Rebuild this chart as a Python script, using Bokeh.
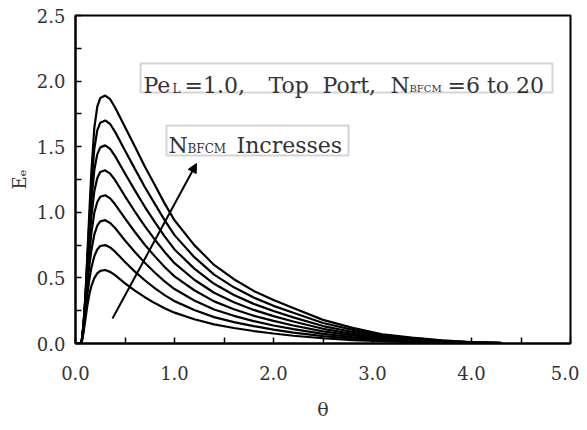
from bokeh.plotting import figure
from bokeh.models import Label, BoxAnnotation, Arrow, NormalHead, FixedTicker, Range1d, NumeralTickFormatter, ColumnDataSource
from bokeh.embed import file_html
from bokeh.resources import INLINE

# ---- data ----
theta = [0.00, 0.06, 0.08, 0.10, 0.12, 0.14, 0.16, 0.19, 0.22, 0.25, 0.30, 0.35, 0.40, 0.50, 0.60,
         0.70, 0.80, 0.90, 1.00, 1.20, 1.40, 1.60, 1.80, 2.00, 2.20, 2.50, 2.80, 3.10, 3.40, 3.70, 4.00, 4.30]

e_n6 = [0, 0, 0.078, 0.185, 0.291, 0.375, 0.437, 0.498, 0.535, 0.554, 0.560, 0.546, 0.521, 0.459, 0.403,
        0.353, 0.308, 0.269, 0.235, 0.185, 0.146, 0.118, 0.095, 0.076, 0.059, 0.040, 0.026, 0.017, 0.010, 0.0056, 0.0028, 0.0011]
e_n8 = [0, 0, 0.098, 0.233, 0.373, 0.488, 0.575, 0.665, 0.716, 0.743, 0.750, 0.732, 0.700, 0.621, 0.548,
        0.482, 0.422, 0.369, 0.323, 0.255, 0.201, 0.163, 0.132, 0.106, 0.083, 0.056, 0.037, 0.023, 0.014, 0.0078, 0.0038, 0.0016]
e_n10 = [0, 0, 0.113, 0.273, 0.446, 0.592, 0.709, 0.831, 0.898, 0.931, 0.940, 0.919, 0.880, 0.785, 0.697,
         0.615, 0.541, 0.474, 0.415, 0.328, 0.259, 0.211, 0.171, 0.137, 0.109, 0.074, 0.049, 0.030, 0.019, 0.0102, 0.0049, 0.0021]
e_n12 = [0, 0, 0.124, 0.305, 0.510, 0.689, 0.837, 0.996, 1.079, 1.119, 1.130, 1.106, 1.061, 0.953, 0.850,
         0.753, 0.666, 0.583, 0.512, 0.406, 0.321, 0.261, 0.212, 0.172, 0.137, 0.093, 0.061, 0.037, 0.023, 0.0128, 0.0060, 0.0027]
e_n14 = [0, 0, 0.132, 0.330, 0.566, 0.779, 0.962, 1.160, 1.261, 1.307, 1.320, 1.295, 1.245, 1.122, 1.006,
         0.895, 0.793, 0.698, 0.612, 0.486, 0.387, 0.314, 0.256, 0.209, 0.168, 0.112, 0.074, 0.045, 0.028, 0.0154, 0.0072, 0.0033]
e_n16 = [0, 0, 0.136, 0.347, 0.613, 0.861, 1.081, 1.323, 1.442, 1.495, 1.510, 1.483, 1.428, 1.296, 1.167,
         1.042, 0.927, 0.817, 0.717, 0.571, 0.455, 0.370, 0.302, 0.248, 0.199, 0.133, 0.088, 0.053, 0.034, 0.0183, 0.0084, 0.0039]
e_n18 = [0, 0, 0.136, 0.357, 0.651, 0.935, 1.195, 1.484, 1.624, 1.683, 1.700, 1.673, 1.613, 1.471, 1.331,
         1.193, 1.066, 0.940, 0.826, 0.658, 0.525, 0.428, 0.350, 0.287, 0.235, 0.156, 0.104, 0.061, 0.039, 0.0214, 0.0097, 0.0046]
e_n20 = [0, 0, 0.132, 0.359, 0.680, 1.002, 1.304, 1.644, 1.805, 1.871, 1.890, 1.862, 1.799, 1.650, 1.501,
         1.349, 1.210, 1.068, 0.939, 0.750, 0.599, 0.490, 0.401, 0.331, 0.270, 0.180, 0.119, 0.070, 0.045, 0.0246, 0.0113, 0.0057]

series = {"N6": e_n6, "N8": e_n8, "N10": e_n10, "N12": e_n12,
          "N14": e_n14, "N16": e_n16, "N18": e_n18, "N20": e_n20}

x_ticks = [0, 1, 2, 3, 4, 5]
x_minor = [0.5, 1.5, 2.5, 3.5, 4.5]
y_ticks = [0.0, 0.5, 1.0, 1.5, 2.0, 2.5]
y_minor = [0.25, 0.75, 1.25, 1.75, 2.25]

FONT = "DejaVu Serif"
TXT = "#333333"

p = figure(width=579, height=422,
           x_range=Range1d(0, 5), y_range=Range1d(0, 2.5),
           output_backend="svg", toolbar_location=None,
           min_border_left=75, min_border_right=9, min_border_top=15, min_border_bottom=79)

p.xgrid.visible = False
p.ygrid.visible = False
p.background_fill_color = "white"
p.border_fill_color = "white"
p.outline_line_color = "black"
p.outline_line_width = 2

src = ColumnDataSource(dict(theta=theta, **series))
for name in series:
    p.line("theta", name, source=src, line_color="black", line_width=2.2)

p.xaxis.ticker = FixedTicker(ticks=x_ticks, minor_ticks=x_minor)
p.yaxis.ticker = FixedTicker(ticks=y_ticks, minor_ticks=y_minor)
p.xaxis.formatter = NumeralTickFormatter(format="0.0")
p.yaxis.formatter = NumeralTickFormatter(format="0.0")

for ax in (p.xaxis, p.yaxis):
    ax.axis_line_width = 2
    ax.axis_line_color = "black"
    ax.major_tick_in = 6
    ax.major_tick_out = 0
    ax.minor_tick_in = 6
    ax.minor_tick_out = 0
    ax.major_tick_line_width = 1.5
    ax.minor_tick_line_width = 1.5
    ax.major_label_text_font = FONT
    ax.major_label_text_font_size = "18px"
    ax.major_label_text_color = TXT
    ax.axis_label_text_font = FONT
    ax.axis_label_text_font_style = "normal"
    ax.axis_label_text_color = TXT

p.xaxis.major_label_standoff = 22
p.yaxis.major_label_standoff = 10
p.xaxis.axis_label = "θ"
p.xaxis.axis_label_text_font_size = "19px"
p.xaxis.axis_label_standoff = 15
p.yaxis.axis_label = "Eₑ"
p.yaxis.axis_label_text_font_size = "18px"
p.yaxis.axis_label_standoff = 4

# ---- annotation boxes ----
p.add_layout(BoxAnnotation(left=0.657, right=4.818, bottom=1.913, top=2.134,
                           fill_color=None, line_color="#707070", line_width=2))
p.add_layout(BoxAnnotation(left=0.919, right=2.758, bottom=1.433, top=1.662,
                           fill_color=None, line_color="#707070", line_width=2))

def px_x(px):
    return (px - 75) / 99.0

def px_y(py):
    return (343 - py) / 131.2

def lab(x, y, text, size):
    p.add_layout(Label(x=px_x(x), y=px_y(y), text=text, text_font=FONT, text_font_size=size,
                       text_color=TXT, text_baseline="alphabetic", text_align="left"))

# box 1 (positions in reference pixels)
lab(143, 85, "Pe", "22px")
lab(172, 88, "L", "12px")
lab(184, 85, "=1.0,", "22px")
lab(268, 85, "Top", "22px")
lab(322, 85, "Port,", "22px")
lab(390, 85, "N", "22px")
lab(409, 88, "BFCM", "10px")
lab(447, 85, "=6 to 20", "22px")
# box 2
lab(168, 145, "N", "22px")
lab(187, 148, "BFCM", "12px")
lab(236, 145, "Incresses", "22px")

p.add_layout(Arrow(end=NormalHead(size=9, fill_color="black", line_color="black"),
                   x_start=px_x(112), y_start=px_y(318), x_end=px_x(196), y_end=px_y(163),
                   line_color="black", line_width=2))

open("out.html", "w").write(file_html(p, INLINE))
